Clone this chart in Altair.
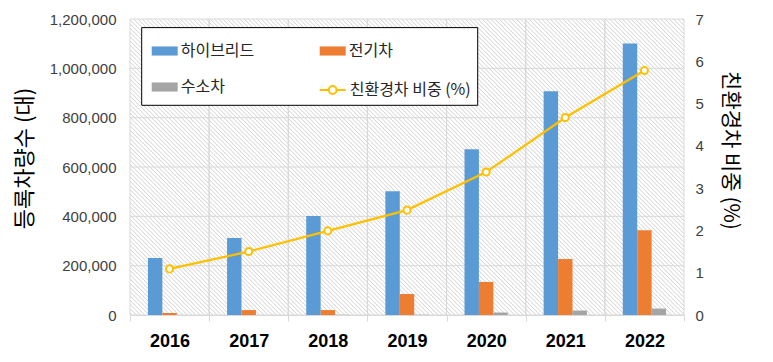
import math
import altair as alt
import pandas as pd

# ---------------- data ----------------
years = ["2016", "2017", "2018", "2019", "2020", "2021", "2022"]
types = ["하이브리드", "전기차", "수소차"]
hybrid = [231000, 312000, 401000, 502000, 672000, 907000, 1101000]
electric = [8000, 20000, 20000, 85000, 134000, 227000, 344000]
hydrogen = [100, 200, 900, 1000, 10000, 18000, 26000]
share = [1.09, 1.50, 1.99, 2.48, 3.38, 4.67, 5.78]
share_label = "친환경차 비중 (%)"
y_ticks = [0, 200000, 400000, 600000, 800000, 1000000, 1200000]
y2_ticks = [0, 1, 2, 3, 4, 5, 6, 7]

# ---------------- styles ----------------
W, H = 554, 296
KR = "Noto Sans CJK KR"
LAT = "Liberation Sans"
bar_colors = ["#5b9bd5", "#ed7d31", "#a5a5a5"]
line_color = "#ffc000"
grid_color = "#d9d9d9"

bar_df = pd.DataFrame(
    [{"year": y, "type": t, "value": v}
     for t, vals in zip(types, [hybrid, electric, hydrogen])
     for y, v in zip(years, vals)]
)
line_df = pd.DataFrame({"year": years, "share": share, "series": [share_label] * len(years)})
ytick_df = pd.DataFrame({"v": y_ticks})
year_df = pd.DataFrame({"year": years})
one_df = pd.DataFrame({"a": [1]})

# diagonal hatch via a striped linear gradient (stripes at 45 deg in pixel space)
s = (W + H) / (W * W + H * H)
N = 200
P = (W + H) / math.sqrt(2)
d = 0.75 / P
stops = []
for i in range(N):
    t0 = (i + 0.5) / N
    stops.append(alt.GradientStop(offset=round(max(t0 - d, 0), 6), color="#ffffff"))
    stops.append(alt.GradientStop(offset=round(t0, 6), color="#d3d3d3"))
    stops.append(alt.GradientStop(offset=round(min(t0 + d, 1), 6), color="#ffffff"))
hatch_fill = alt.LinearGradient(
    gradient="linear", stops=stops,
    x1=0, y1=1, x2=round(s * W, 6), y2=round(1 - s * H, 6),
)

xscale = alt.Scale(domain=years, paddingInner=0, paddingOuter=0)
xaxis = alt.Axis(
    title=None, labelFont=LAT, labelFontWeight="bold", labelFontSize=18,
    labelColor="#000000", labelPadding=11, labelAngle=0, tickBand="extent",
    ticks=True, tickSize=6, tickColor=grid_color, domain=True,
    domainColor=grid_color, grid=False,
)


def xenc(**kw):
    return alt.X("year:N", scale=xscale, axis=xaxis, **kw)


yscale = alt.Scale(domain=[0, 1200000], nice=False, zero=True)

hatch = alt.Chart(one_df).mark_rect(fill=hatch_fill, strokeWidth=0).encode(
    x=alt.value(0), x2=alt.value("width"), y=alt.value(0), y2=alt.value("height")
)

hgrid = alt.Chart(ytick_df).mark_rule(color=grid_color, strokeWidth=1).encode(
    y=alt.Y("v:Q", scale=yscale, axis=None)
)
vgrid0 = alt.Chart(year_df).mark_rule(color=grid_color, strokeWidth=1).encode(
    x=xenc(bandPosition=0)
)
vgrid1 = alt.Chart(year_df).mark_rule(color=grid_color, strokeWidth=1).encode(
    x=xenc(bandPosition=1)
)

RECT_PATH = "M-1,-0.35H1V0.35H-1Z"
LINE_PATH = "M-1,0H-0.3M0.3,0H1M0.3,0A0.3,0.3,0,1,1,-0.3,0A0.3,0.3,0,1,1,0.3,0"

bars = alt.Chart(bar_df).mark_bar().encode(
    x=xenc(),
    xOffset=alt.XOffset(
        "type:N", sort=types,
        scale=alt.Scale(
            domain=types, paddingInner=0, paddingOuter=0,
            range=[alt.ExprRef(expr="bandwidth('x')*0.2265"),
                   alt.ExprRef(expr="bandwidth('x')*0.7735")],
        ),
    ),
    y=alt.Y(
        "value:Q", scale=yscale,
        axis=alt.Axis(
            orient="left", values=y_ticks, format=",d", labelFont=LAT,
            labelFontSize=15, labelColor="#404040", labelPadding=14,
            ticks=False, domain=False, grid=False,
            title="등록차량수 (대)", titleFont=KR, titleFontSize=22,
            titleFontWeight="normal", titleColor="#000000",
            titleX=-106, titleY=139, titleAlign="center", titleBaseline="middle",
            titleAngle=270,
        ),
    ),
    color=alt.Color(
        "type:N", scale=alt.Scale(domain=types, range=bar_colors),
        legend=alt.Legend(
            title=None, orient="none", legendX=21.7, legendY=19, columns=2,
            direction="horizontal",
            columnPadding=65, rowPadding=15, symbolType=RECT_PATH,
            symbolSize=676, symbolStrokeWidth=0, labelFont=KR,
            labelFontSize=16, labelColor="#262626", labelOffset=3,
            padding=0, labelLimit=300,
        ),
    ),
)

legend_box = alt.Chart(one_df).mark_rect(
    fill="white", stroke="#000000", strokeWidth=1
).encode(x=alt.value(11.7), x2=alt.value(347.7), y=alt.value(8.6), y2=alt.value(86.3))

line = alt.Chart(line_df).mark_line(
    strokeWidth=2.25,
    point=alt.OverlayMarkDef(filled=False, fill="white", size=50, strokeWidth=2),
).encode(
    x=xenc(),
    y=alt.Y(
        "share:Q", scale=alt.Scale(domain=[0, 7], nice=False),
        axis=alt.Axis(
            orient="right", values=y2_ticks, labelFont=LAT, labelFontSize=15,
            labelColor="#404040", labelPadding=11, ticks=False, domain=False,
            grid=False, title=share_label, titleFont=KR, titleFontSize=21,
            titleFontWeight="normal", titleColor="#000000", titleAngle=90,
            titleX=45, titleY=131, titleAlign="center", titleBaseline="middle",
        ),
    ),
    stroke=alt.Stroke(
        "series:N", scale=alt.Scale(domain=[share_label], range=[line_color]),
        legend=alt.Legend(
            title=None, orient="none", legendX=188.7, legendY=57,
            symbolType=LINE_PATH, symbolSize=676, symbolStrokeWidth=2,
            symbolFillColor="white", labelFont=KR, labelFontSize=16,
            labelColor="#262626", labelOffset=3, padding=0, labelLimit=300,
        ),
    ),
)

chart = (
    alt.layer(hatch, hgrid, vgrid0, vgrid1, bars, line, legend_box)
    .resolve_scale(y="independent")
    .properties(
        width=W, height=H,
        padding={"left": 5, "top": 4, "right": 5, "bottom": 5},
        background="white",
    )
    .configure_view(stroke=None)
)

chart.save("out.html", embed_options={"renderer": "svg", "actions": False})
